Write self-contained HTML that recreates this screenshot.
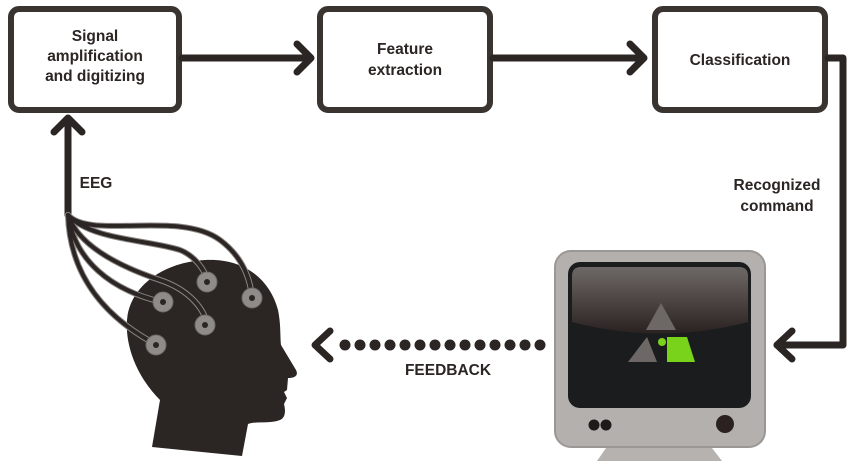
<!DOCTYPE html>
<html><head><style>
body{margin:0;background:#fff;width:850px;height:466px;overflow:hidden;font-family:"Liberation Sans",sans-serif}
</style></head><body>
<svg width="850" height="466" viewBox="0 0 850 466" xmlns="http://www.w3.org/2000/svg">
<defs>
<linearGradient id="scr" x1="0" y1="0" x2="0" y2="1">
<stop offset="0" stop-color="#6e6866"/><stop offset="1" stop-color="#2a2220"/>
</linearGradient>
</defs>
<g fill="#fff" stroke="#3a3431" stroke-width="6">
<rect x="11" y="9" width="168" height="101" rx="8"/>
<rect x="320" y="9" width="170" height="101" rx="8"/>
<rect x="655" y="9" width="170" height="101" rx="8"/>
</g>
<g font-weight="bold" font-size="15.5" fill="#2b2523" text-anchor="middle">
<text x="95" y="41">Signal</text>
<text x="95" y="61">amplification</text>
<text x="95" y="81">and digitizing</text>
<text x="405" y="54">Feature</text>
<text x="405" y="75">extraction</text>
<text x="740" y="65">Classification</text>
<text x="777" y="190">Recognized</text>
<text x="777" y="211">command</text>
<text x="96" y="188">EEG</text>
<text x="448" y="375">FEEDBACK</text>
</g>
<g stroke="#2b2523" stroke-width="7" fill="none" stroke-linecap="round" stroke-linejoin="round">
<line x1="182" y1="58" x2="310" y2="58"/>
<polyline points="297,44 311,58 297,72"/>
<line x1="493" y1="58" x2="643" y2="58"/>
<polyline points="630,44 644,58 630,72"/>
<polyline points="828,58 843,58 843,345 777,345"/>
<polyline points="792,331 777,345 792,359"/>
<line x1="68" y1="215" x2="68" y2="120"/>
<polyline points="54,132 68,118 82,132"/>
<polyline points="330,331 315,345 330,359"/>
</g>
<g fill="#2b2523">
<circle cx="345" cy="345" r="5.5"/><circle cx="360" cy="345" r="5.5"/><circle cx="375" cy="345" r="5.5"/><circle cx="390" cy="345" r="5.5"/><circle cx="405" cy="345" r="5.5"/><circle cx="420" cy="345" r="5.5"/><circle cx="435" cy="345" r="5.5"/><circle cx="450" cy="345" r="5.5"/><circle cx="465" cy="345" r="5.5"/><circle cx="480" cy="345" r="5.5"/><circle cx="495" cy="345" r="5.5"/><circle cx="510" cy="345" r="5.5"/><circle cx="525" cy="345" r="5.5"/><circle cx="540" cy="345" r="5.5"/>
</g>
<!-- head -->
<path fill="#2b2523" d="M152,447 L160,400 C140,380 125,350 127,320 C130,285 165,262 205,260 C245,258 270,280 278,310 C281,325 280,335 281,345 L296,370 C299,376 294,378 288,378 L287,390 L284,392 L287,398 L284,404 C286,412 285,418 280,420 C270,424 255,421 248,424 L242,456 Z"/>
<!-- wires -->
<g fill="none" stroke-linecap="round">
<g stroke="#8a8583" stroke-width="6">
<path d="M68,215 C90,240 180,210 220,240 C240,255 250,275 252,298"/>
<path d="M68,215 C90,240 150,240 180,250 C195,256 205,270 207,280"/>
<path d="M68,215 C80,250 130,270 160,280 C190,290 205,310 207,325"/>
<path d="M68,215 C75,260 110,290 162,302"/>
<path d="M68,215 C70,280 110,320 157,345"/>
</g>
<g stroke="#2b2523" stroke-width="4">
<path d="M68,215 C90,240 180,210 220,240 C240,255 250,275 252,298"/>
<path d="M68,215 C90,240 150,240 180,250 C195,256 205,270 207,280"/>
<path d="M68,215 C80,250 130,270 160,280 C190,290 205,310 207,325"/>
<path d="M68,215 C75,260 110,290 162,302"/>
<path d="M68,215 C70,280 110,320 157,345"/>
</g>
</g>
<g fill="#8f8b89" stroke="#6e6a68" stroke-width="1">
<circle cx="207" cy="282" r="10"/><circle cx="252" cy="298" r="10"/><circle cx="163" cy="302" r="10"/><circle cx="205" cy="325" r="10"/><circle cx="156" cy="345" r="10"/>
</g>
<g fill="#2b2523"><circle cx="207" cy="282" r="3"/><circle cx="252" cy="298" r="3"/><circle cx="163" cy="302" r="3"/><circle cx="205" cy="325" r="3"/><circle cx="156" cy="345" r="3"/></g>
<!-- monitor -->
<path d="M597,461 L606,448 L712,448 L722,461 Z" fill="#b5b2b0"/>
<rect x="555" y="251" width="210" height="196" rx="16" fill="#b3b0ae" stroke="#9a9795" stroke-width="2"/>
<rect x="568" y="262" width="183" height="146" rx="12" fill="#1b1c1e"/>
<path d="M572,276 Q572,267 581,267 L739,267 Q748,267 748,276 L748,322 Q660,345 572,322 Z" fill="url(#scr)"/>
<polygon points="661,303 646,330 676,330" fill="#6d6866"/>
<polygon points="647,337 628,362 657,362" fill="#6d6866"/>
<polygon points="667,337 687,337 695,362 667,362" fill="#7ad31b"/>
<circle cx="662" cy="342" r="4" fill="#7ad31b"/>
<circle cx="594" cy="425" r="5.5" fill="#1e1a19"/><circle cx="606" cy="425" r="5.5" fill="#1e1a19"/>
<circle cx="725" cy="424" r="9" fill="#2b2120"/>
</svg>
</body></html>
